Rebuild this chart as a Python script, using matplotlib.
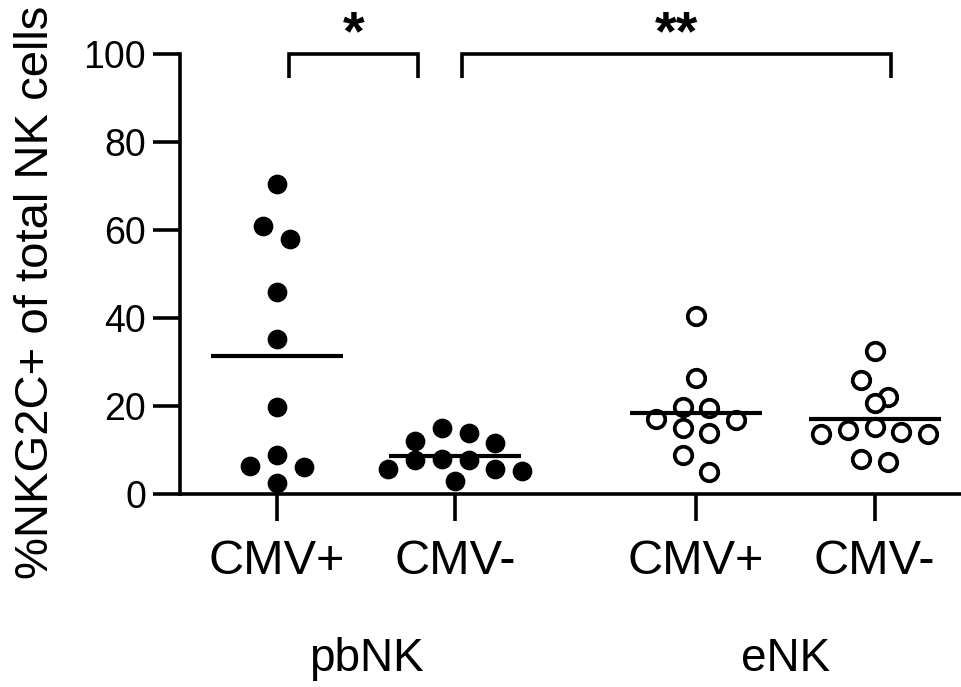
import matplotlib
matplotlib.use("Agg")
import matplotlib.pyplot as plt
import matplotlib.transforms as mtransforms
import numpy as np

plt.rcParams["font.family"] = ["Liberation Sans", "DejaVu Sans"]

# values (% NKG2C+ of total NK cells)
pbnk_cmv_pos = [70.4, 60.8, 58.0, 45.8, 35.2, 19.8, 8.9, 6.4, 6.1, 2.4]
pbnk_cmv_neg = [15.1, 13.8, 12.1, 11.7, 7.9, 7.7, 7.7, 5.8, 5.6, 5.2, 3.0]
enk_cmv_pos = [40.5, 26.4, 19.8, 19.5, 17.0, 16.8, 15.1, 13.9, 8.9, 5.1]
enk_cmv_neg = [32.5, 25.8, 22.1, 20.6, 15.3, 14.5, 14.2, 13.6, 13.6, 7.9, 7.3]

series = [pbnk_cmv_pos, pbnk_cmv_neg, enk_cmv_pos, enk_cmv_neg]
tick_labels = ["CMV+", "CMV-", "CMV+", "CMV-"]
group_names = ["pbNK", "eNK"]
group_members = [(0, 1), (2, 3)]
# (first column, second column, stars)
comparisons = [(0, 1, "*"), (1, 3, "**")]

# layout / style
xpos = [1.0, 2.0, 3.35, 4.35]
filled = [True, True, False, False]
bracket_inset = [(0.07, -0.21), (0.04, 0.09)]
LW = 2.6


def row_offsets(vals, dx, dy):
    """Prism-like scatter: points closer than one marker height share a row."""
    vals = np.asarray(vals)
    order = np.argsort(-vals, kind="stable")
    rows = []
    for i in order:
        if rows and vals[rows[-1][0]] - vals[i] < dy:
            rows[-1].append(i)
        else:
            rows.append([i])
    offs = np.zeros(len(vals))
    for row in rows:
        n = len(row)
        slots = sorted(np.arange(n) - (n - 1) / 2, key=lambda s: (abs(s), s))
        for i, s in zip(row, slots):
            offs[i] = s * dx
    return offs


fig = plt.figure(figsize=(9.62, 6.87), dpi=100)
ax = fig.add_axes([0.1871, 0.2809, 0.8129, 0.6405])
ax.set_xlim(0.458, 4.84)
ax.set_ylim(0, 100)

for s in ["top", "right"]:
    ax.spines[s].set_visible(False)
for s in ["left", "bottom"]:
    ax.spines[s].set_linewidth(LW)

p0 = ax.transData.transform((0, 0))
p1 = ax.transData.transform((1, 1))
px_x, px_y = p1[0] - p0[0], p1[1] - p0[1]
diam = 14.5 * fig.dpi / 72
dx = 1.33 * diam / px_x
dy = diam / px_y

for k, vals in enumerate(series):
    x = xpos[k] + row_offsets(vals, dx, dy)
    if filled[k]:
        ax.plot(x, vals, "o", ms=13.2, mfc="black", mec="black", mew=1.0,
                clip_on=False, zorder=3)
    else:
        ax.plot(x, vals, "o", ms=12.6, mfc="white", mec="black", mew=2.7,
                clip_on=False, zorder=3)
    ax.hlines(np.mean(vals), xpos[k] - 0.37, xpos[k] + 0.37,
              colors="black", lw=3.0, zorder=4)

ax.set_yticks(range(0, 101, 20))
ax.set_xticks(xpos)
ax.set_xticklabels(tick_labels, fontsize=35)
ax.tick_params(axis="y", labelsize=27, length=19.5, width=LW, pad=5)
ax.tick_params(axis="x", length=19.5, width=LW, pad=13)

# significance brackets
for (a, b, stars), (ia, ib) in zip(comparisons, bracket_inset):
    xa, xb = xpos[a] + ia, xpos[b] + ib
    ax.plot([xa, xa, xb, xb], [94.5, 100, 100, 94.5], color="black", lw=LW,
            clip_on=False, solid_joinstyle="miter", solid_capstyle="butt")
    ax.text((xa + xb) / 2, 101.0, stars, ha="center", va="baseline",
            fontsize=40, fontweight="bold")

# group labels under the tick labels
trans = mtransforms.blended_transform_factory(ax.transData, ax.transAxes)
for name, (a, b) in zip(group_names, group_members):
    ax.text((xpos[a] + xpos[b]) / 2, -0.375, name, transform=trans,
            ha="center", va="center", fontsize=33)

fig.text(36 / 962, 1 - 292 / 687, "%NKG2C+ of total NK cells", rotation=90,
         ha="center", va="center", fontsize=34)

fig.savefig("out.png", dpi=100)
